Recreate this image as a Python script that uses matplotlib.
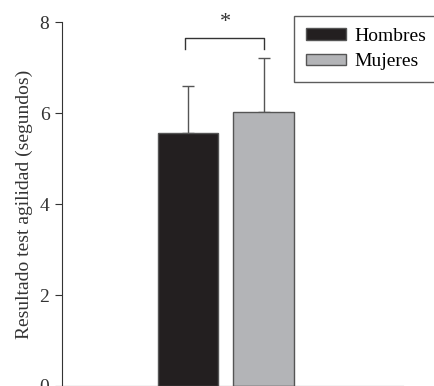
import matplotlib.pyplot as plt
from matplotlib.patches import Patch

plt.rcParams["font.family"] = ["Liberation Serif", "DejaVu Serif"]

# data
groups = ["Hombres", "Mujeres"]
means = [5.55, 6.02]
sds = [1.05, 1.18]
colors = ["#231f20", "#b3b4b7"]
ylabel = "Resultado test agilidad (segundos)"

fig = plt.figure(figsize=(4.35, 3.86), dpi=100)
ax = fig.add_axes([0.1425, 0.0, 0.926 - 0.1425, 0.943])

xpos = [0, 1]
ax.bar(xpos, means, width=0.80, color=colors, edgecolor="#555555", linewidth=1.0, zorder=2)
ax.errorbar(xpos, means, yerr=[[0, 0], sds], fmt="none", ecolor="#555555",
            elinewidth=1.0, capsize=4, capthick=1.0, zorder=1)

# significance bracket
yb, yd = 7.65, 7.41
ax.plot([-0.04, -0.04, 1.0, 1.0], [yd, yb, yb, yd], color="#333333", lw=1.0, clip_on=False)
ax.text(0.5, 7.98, "*", ha="center", va="center", fontsize=16, color="#333333", clip_on=False)

ax.set_xlim(-1.658, 2.83)
ax.set_ylim(0, 8)
ax.set_yticks([0, 2, 4, 6, 8])
ax.set_xticks([])
ax.spines["top"].set_visible(False)
ax.spines["right"].set_visible(False)
ax.spines["left"].set_color("#333333")
ax.spines["bottom"].set_color("#333333")
ax.tick_params(axis="y", labelsize=14, length=5, pad=4, color="#333333", labelcolor="#333333")
ax.set_ylabel(ylabel, fontsize=14, color="#333333", labelpad=5)

handles = [Patch(facecolor=c, edgecolor="#555555") for c in colors]
fig.legend(handles, groups, loc="upper left", bbox_to_anchor=(294 / 435, 1 - 16 / 386),
           fontsize=14, frameon=True, fancybox=False, edgecolor="#333333",
           handlelength=2.1, handleheight=0.55, borderpad=0.6, labelspacing=0.45,
           handletextpad=0.4, borderaxespad=0)

fig.savefig("out.png", dpi=100)
